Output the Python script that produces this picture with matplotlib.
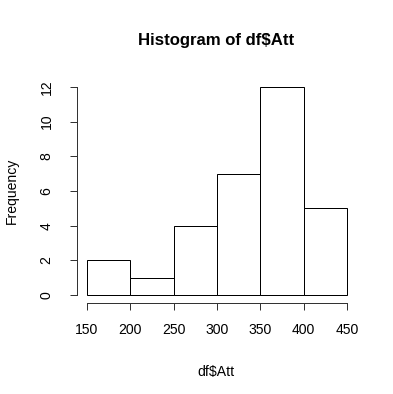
import matplotlib
matplotlib.use("Agg")
import matplotlib.pyplot as plt

breaks = [150, 200, 250, 300, 350, 400, 450]
counts = [2, 1, 4, 7, 12, 5]
xticks = [150, 200, 250, 300, 350, 400, 450]
yticks = [0, 2, 4, 6, 8, 10, 12]

plt.rcParams['font.family'] = ['Liberation Sans', 'DejaVu Sans']
W, H = 393, 394
fig = plt.figure(figsize=(W / 72, H / 72), dpi=72)
l, r, t, b = 76.6, 357.4, 78.7, 303.3
ax = fig.add_axes([l / W, 1 - b / H, (r - l) / W, (b - t) / H])

widths = [breaks[i + 1] - breaks[i] for i in range(len(counts))]
ax.bar(breaks[:-1], counts, width=widths, align='edge', facecolor='white',
       edgecolor='black', linewidth=1)

ax.set_xlim(138, 462)
ax.set_ylim(-0.48, 12.48)
for s in ['top', 'right']:
    ax.spines[s].set_visible(False)
ax.spines['left'].set_bounds(0, 12)
ax.spines['bottom'].set_bounds(150, 450)
for s in ['left', 'bottom']:
    ax.spines[s].set_linewidth(1)
    ax.spines[s].set_color('#333333')
ax.set_xticks(xticks)
ax.set_yticks(yticks)
ax.set_xticklabels([str(v) for v in xticks])
ax.set_yticklabels([str(v) for v in yticks], rotation=90, va='center')
ax.tick_params(axis='both', direction='out', length=7, width=1, color='#333333',
               labelsize=14)
ax.tick_params(axis='x', pad=13)
ax.tick_params(axis='y', pad=16)

fig.text(216 / W, 1 - 40 / H, 'Histogram of df$Att', ha='center', va='center',
         fontsize=16.8, fontweight='bold')
fig.text(216 / W, 1 - 372 / H, 'df$Att', ha='center', va='center', fontsize=14)
fig.text(12 / W, 1 - 191 / H, 'Frequency', ha='center', va='center', fontsize=14,
         rotation=90)

fig.savefig('out.png', dpi=72)
